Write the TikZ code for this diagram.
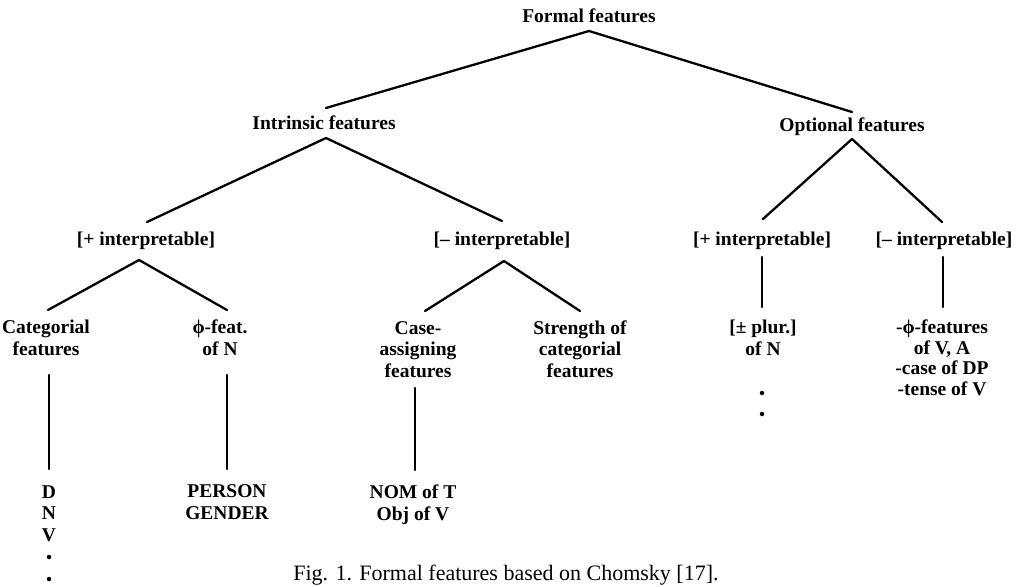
\documentclass[tikz,border=0pt]{standalone}
\usepackage{fontspec}
\setmainfont{Liberation Serif}
\begin{document}
\begin{tikzpicture}[x=1pt,y=-1pt,
  lab/.style={font=\bfseries\fontsize{19.5}{21.5}\selectfont, inner sep=0pt, anchor=base, align=center},
  edge/.style={line width=2.3pt, line cap=round},
  dotnode/.style={circle, fill, inner sep=0pt, minimum size=4.5pt}]
\useasboundingbox (0,0) rectangle (1024,586);
% level 0
\node[lab] (ff) at (589,23) {Formal features};
% level 1
\node[lab] (int) at (324,129) {Intrinsic features};
\node[lab] (opt) at (852,131) {Optional features};
% level 2
\node[lab] (lp) at (146,245) {[+ interpretable]};
\node[lab] (lm) at (502,245) {[– interpretable]};
\node[lab] (rp) at (762,245) {[+ interpretable]};
\node[lab] (rm) at (944,245) {[– interpretable]};
% level 3 (anchor base = baseline of last line)
\node[lab] (cat) at (46,355) {Categorial\\features};
\node[lab] (phi) at (220,355) {ϕ-feat.\\of N};
\node[lab] (case) at (418,377) {Case-\\assigning\\features};
\node[lab] (str) at (580,377) {Strength of\\categorial\\features};
\node[lab] (plur) at (763,355) {[± plur.]\\of N};
\node[lab, font=\bfseries\fontsize{19.5}{20.5}\selectfont] (phif) at (942,395) {-ϕ-features\\of V, A\\-case of DP\\-tense of V};
% level 4
\node[lab] (dnv) at (49,541) {D\\N\\V};
\node[lab] (pg) at (227,519) {PERSON\\GENDER};
\node[lab] (nom) at (413,520) {NOM of T\\Obj of V};
\node[dotnode] (d1) at (49,557) {};
\node[dotnode] (d2) at (49,579) {};
\node[dotnode] (d3) at (762,393) {};
\node[dotnode] (d4) at (762,414) {};
% caption
\node[font=\fontsize{22}{26}\selectfont, inner sep=0pt, anchor=base] (cap) at (506,580) {Fig. 1. Formal features based on Chomsky [17].};
% connectors
\draw[edge] ([yshift=-8pt]ff.base) -- ([xshift=2pt,yshift=21pt]int.base);
\draw[edge] ([yshift=-8pt]ff.base) -- ([yshift=19pt]opt.base);
\draw[edge] ([xshift=2pt,yshift=-9pt]int.base) -- ([xshift=1pt,yshift=23pt]lp.base);
\draw[edge] ([xshift=2pt,yshift=-9pt]int.base) -- ([yshift=24pt]lm.base);
\draw[edge] ([yshift=-8pt]opt.base) -- ([xshift=1pt,yshift=26pt]rp.base);
\draw[edge] ([yshift=-8pt]opt.base) -- ([xshift=-2pt,yshift=23pt]rm.base);
\draw[edge] ([xshift=-7pt,yshift=-15pt]lp.base) -- ([xshift=2pt,yshift=45pt]cat.base);
\draw[edge] ([xshift=-7pt,yshift=-15pt]lp.base) -- ([xshift=7pt,yshift=45pt]phi.base);
\draw[edge] ([xshift=2pt,yshift=-16pt]lm.base) -- ([xshift=7pt,yshift=66pt]case.base);
\draw[edge] ([xshift=2pt,yshift=-16pt]lm.base) -- ([yshift=66pt]str.base);
\draw[edge] ([yshift=-12pt]rp.base) -- ([xshift=-1pt,yshift=48pt]plur.base);
\draw[edge] ([xshift=-1pt,yshift=-12pt]rm.base) -- ([xshift=1pt,yshift=88pt]phif.base);
\draw[edge] ([xshift=3pt,yshift=-20pt]cat.base) -- ([yshift=72pt]dnv.base);
\draw[edge] ([xshift=7pt,yshift=-20pt]phi.base) -- ([yshift=50pt]pg.base);
\draw[edge] ([xshift=-3pt,yshift=-11pt]case.base) -- ([xshift=2pt,yshift=50pt]nom.base);
\end{tikzpicture}
\end{document}
